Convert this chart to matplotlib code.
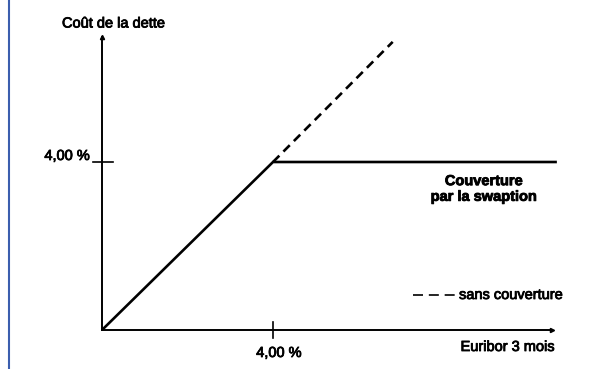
import matplotlib
matplotlib.use("Agg")
import matplotlib.pyplot as plt
import matplotlib.patheffects as pe
from matplotlib.lines import Line2D

plt.rcParams["font.family"] = ["Liberation Sans", "DejaVu Sans"]

# Coût de la dette en fonction de l'Euribor 3 mois (en %)
euribor_couvert = [0, 4, 10.64]
cout_couvert = [0, 4, 4]
euribor_sans = [4, 6.8]
cout_sans = [4, 6.86]
strike = 4
tick_label = "4,00 %"

W, H = 605, 369
fig = plt.figure(figsize=(W / 100, H / 100), dpi=100)

# origin at pixel (102, 330), 4 % = 171 px horizontally, 168 px vertically
x0, y0 = 102, 330
x1, y1 = 552, 37
ax = fig.add_axes([x0 / W, (H - y0) / H, (x1 - x0) / W, (y0 - y1) / H])
ax.set_xlim(0, (x1 - x0) / 171 * 4)
ax.set_ylim(0, (y0 - y1) / 168 * 4)
ax.patch.set_alpha(0)

for s in ["top", "right"]:
    ax.spines[s].set_visible(False)
for s in ["left", "bottom"]:
    ax.spines[s].set_linewidth(1.4)
ax.set_xticks([])
ax.set_yticks([])

# arrow heads
ax.plot(1, 0, ">", color="black", ms=3, transform=ax.transAxes, clip_on=False)
ax.plot(0, 1, "^", color="black", ms=3, transform=ax.transAxes, clip_on=False)

ax.plot(euribor_couvert, cout_couvert, color="black", lw=1.9, clip_on=False,
        solid_capstyle="butt")
ax.plot(euribor_sans, cout_sans, color="black", lw=1.9, ls=(0, (3.4, 2.2)),
        clip_on=False)

# tick marks at the strike
ax.plot([strike, strike], [-0.2, 0.2], color="black", lw=1.2, clip_on=False)
ax.plot([-0.2, 0.25], [strike, strike], color="black", lw=1.2, clip_on=False)

fs = 10.5
heavy = [pe.withStroke(linewidth=0.6, foreground="black")]

def label(x, y, s, **kw):
    fig.text(x / W, 1 - y / H, s, fontsize=fs, path_effects=heavy, **kw)

label(90, 160, tick_label, ha="right", va="baseline")
label(279, 357, tick_label, ha="center", va="baseline")
label(114, 27.5, "Coût de la dette", ha="center", va="baseline")
label(508, 351, "Euribor 3 mois", ha="center", va="baseline")
label(459, 299, "sans couverture", ha="left", va="baseline")
label(484, 189, "Couverture\npar la swaption", ha="center", va="center",
      fontweight="bold", linespacing=1.15)

fig.add_artist(Line2D([413 / W, 458 / W], [1 - 295 / H, 1 - 295 / H],
                      color="black", lw=1.2, ls=(0, (6, 3.5))))

# blue frame line on the left
fig.add_artist(Line2D([9 / W, 9 / W], [0, 1], color="#3b5eae", lw=1.5))

fig.savefig("out.png", dpi=100)
